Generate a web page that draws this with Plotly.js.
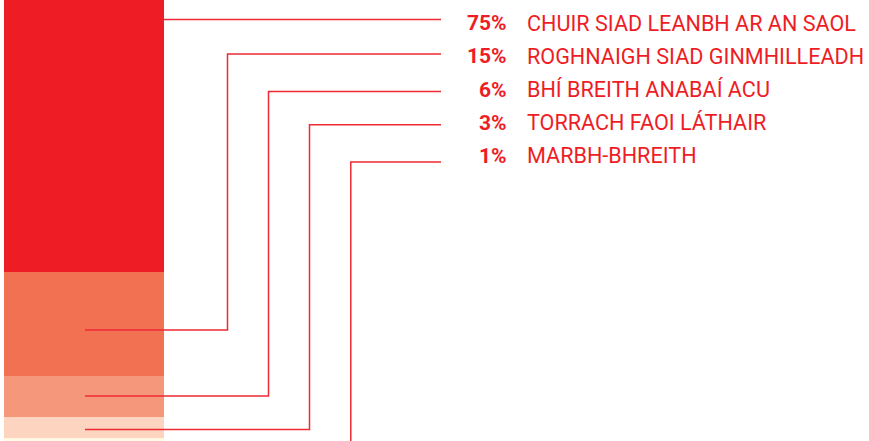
<!DOCTYPE html>
<html>
<head>
<meta charset="utf-8">
<script src="https://cdn.plot.ly/plotly-3.0.1.min.js"></script>
<style>html,body{margin:0;padding:0;background:#fff;}#chart{width:869px;height:441px;}</style>
</head>
<body>
<div id="chart"></div>
<script>
// Data (stacked from bottom to top)
const categories = ["MARBH-BHREITH", "TORRACH FAOI LÁTHAIR", "BHÍ BREITH ANABAÍ ACU", "ROGHNAIGH SIAD GINMHILLEADH", "CHUIR SIAD LEANBH AR AN SAOL"];
const values = [1, 3, 6, 15, 75];
const colors = ["#FFF8E3", "#FDD4BF", "#F5977A", "#F27152", "#EE1D25"];

// Layout helpers (pixel positions converted to paper coords)
const W = 869, H = 441;
const px = x => x / W;
const py = y => 1 - y / H;

const traces = categories.map((c, i) => ({
  type: "bar",
  x: [0],
  y: [values[i]],
  width: [1],
  name: c,
  marker: {color: colors[i], line: {width: 0}},
  hoverinfo: "skip",
  showlegend: false
}));

// Leader-line geometry: [label line y, elbow x, end y] in pixels; order = top row first
const rows = [
  {ly: 19.5, ex: null, ey: null, ty: 23},
  {ly: 54, ex: 227.5, ey: 330, ty: 56},
  {ly: 91.5, ex: 268.5, ey: 396, ty: 89.5},
  {ly: 124.8, ex: 309.5, ey: 429.5, ty: 123},
  {ly: 162, ex: 350.8, ey: 445, ty: 155.5}
];
const lineColor = "#EE2A35";
const shapes = [];
rows.forEach((r, i) => {
  if (r.ex === null) {
    shapes.push({type: "line", xref: "paper", yref: "paper", x0: px(163.7), x1: px(441), y0: py(r.ly), y1: py(r.ly), line: {color: lineColor, width: 1.5}});
  } else if (i === 4) {
    shapes.push({type: "path", xref: "paper", yref: "paper",
      path: `M ${px(441)} ${py(r.ly)} L ${px(r.ex)} ${py(r.ly)} L ${px(r.ex)} ${py(r.ey)}`,
      line: {color: lineColor, width: 1.5}});
  } else {
    shapes.push({type: "path", xref: "paper", yref: "paper",
      path: `M ${px(441)} ${py(r.ly)} L ${px(r.ex)} ${py(r.ly)} L ${px(r.ex)} ${py(r.ey)} L ${px(85)} ${py(r.ey)}`,
      line: {color: lineColor, width: 1.5}});
  }
});

const topFirstCats = categories.slice().reverse();
const topFirstVals = values.slice().reverse();
const annotations = [];
rows.forEach((r, i) => {
  annotations.push({xref: "paper", yref: "paper", x: px(508.5), y: py(r.ty), xanchor: "right", yanchor: "middle",
    text: "<b>" + topFirstVals[i] + "%</b>", showarrow: false,
    font: {family: "Roboto, sans-serif", size: 21, color: "#EE1D25"}});
  annotations.push({xref: "paper", yref: "paper", x: px(525), y: py(r.ty), xanchor: "left", yanchor: "middle",
    text: topFirstCats[i], showarrow: false,
    font: {family: "Roboto, sans-serif", size: 21.6, color: "#EE1D25"}});
});

// Axis ranges chosen so that the stacked bar is cropped as in the reference
const pxPerUnitY = 6.93;
const layout = {
  width: W, height: H,
  margin: {l: 0, r: 0, t: 0, b: 0},
  paper_bgcolor: "#ffffff", plot_bgcolor: "#ffffff",
  barmode: "stack",
  bargap: 0,
  xaxis: {range: [-83.85 / 159.7, (W - 83.85) / 159.7], visible: false, fixedrange: true},
  yaxis: {range: [(445 - H) / pxPerUnitY, 445 / pxPerUnitY], visible: false, fixedrange: true},
  shapes: shapes,
  annotations: annotations,
  showlegend: false
};

Plotly.newPlot("chart", traces, layout, {displayModeBar: false, staticPlot: true});
</script>
</body>
</html>
